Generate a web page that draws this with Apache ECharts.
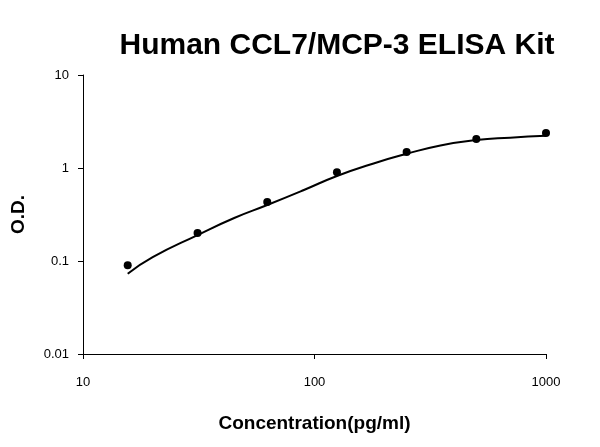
<!DOCTYPE html>
<html><head><meta charset="utf-8">
<script src="https://cdn.jsdelivr.net/npm/echarts@6/dist/echarts.min.js"></script>
<style>html,body{margin:0;background:#fff}#c{width:600px;height:447px}</style>
</head><body><div id="c"></div>
<script>
const concentrations = [15.6, 31.25, 62.5, 125, 250, 500, 1000];
const odValues = [0.09, 0.2, 0.43, 0.9, 1.49, 2.05, 2.38];
const curveX = [15.6, 20, 31.25, 45, 62.5, 90, 125, 180, 250, 350, 500, 700, 1000];
const curveY = [0.073, 0.11, 0.19, 0.29, 0.40, 0.58, 0.82, 1.12, 1.42, 1.75, 2.0, 2.12, 2.22];
const chart = echarts.init(document.getElementById('c'));
chart.setOption({
  animation: false,
  title: {text: 'Human CCL7/MCP-3 ELISA Kit', left: 332, top: 26, textAlign: 'center',
    textStyle: {fontFamily: 'Liberation Sans', fontWeight: 'bold', fontSize: 30, color: '#000'}},
  grid: {left: 83, right: 54, top: 75, bottom: 93},
  xAxis: {type: 'log', min: 10, max: 1000, logBase: 10,
    name: 'Concentration(pg/ml)', nameLocation: 'middle', nameGap: 60,
    nameTextStyle: {fontFamily: 'Liberation Sans', fontWeight: 'bold', fontSize: 19, color: '#000'},
    axisLine: {lineStyle: {color: '#000'}}, axisTick: {show: true, inside: false, lineStyle: {color: '#000'}},
    axisLabel: {color: '#000', fontSize: 13, fontFamily: 'Liberation Sans', margin: 22, formatter: v => String(v)},
    splitLine: {show: false}, minorTick: {show: false}},
  yAxis: {type: 'log', min: 0.01, max: 10, logBase: 10,
    name: 'O.D.', nameLocation: 'middle', nameGap: 55,
    nameTextStyle: {fontFamily: 'Liberation Sans', fontWeight: 'bold', fontSize: 19, color: '#000'},
    axisLine: {show: true, lineStyle: {color: '#000'}}, axisTick: {show: true, lineStyle: {color: '#000'}},
    axisLabel: {color: '#000', fontSize: 13, fontFamily: 'Liberation Sans', margin: 14,
      formatter: v => String(v)},
    splitLine: {show: false}},
  series: [
    {type: 'line', data: curveX.map((x, i) => [x, curveY[i]]), smooth: true, showSymbol: false,
      lineStyle: {color: '#000', width: 2}},
    {type: 'scatter', data: concentrations.map((x, i) => [x, odValues[i]]), symbolSize: 8,
      itemStyle: {color: '#000', opacity: 1}}
  ]
});
</script></body></html>
